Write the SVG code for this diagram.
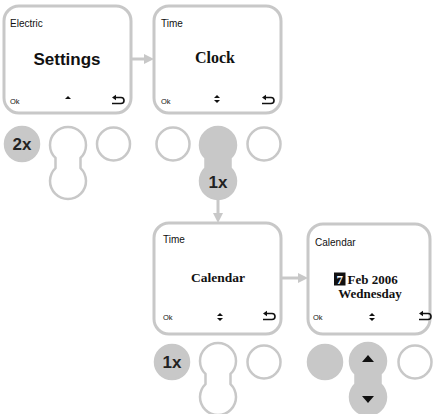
<svg xmlns="http://www.w3.org/2000/svg" width="433" height="414" viewBox="0 0 433 414">
  <style>
    .screen { fill: #ffffff; stroke: #c8c8c8; stroke-width: 3; }
    .btn { fill: #ffffff; stroke: #c8c8c8; stroke-width: 2.5; }
    .btn-on { fill: #c8c8c8; stroke: #c8c8c8; stroke-width: 2.5; }
    .conn { stroke: #c8c8c8; stroke-width: 3; fill: none; }
    .head { fill: #c8c8c8; }
    .hdr { font-family: "Liberation Sans", Arial, sans-serif; font-size: 10px; fill: #111; }
    .soft { font-family: "Liberation Sans", Arial, sans-serif; font-size: 7.5px; fill: #111; }
    .title-sans { font-family: "Liberation Sans", Arial, sans-serif; font-weight: bold; font-size: 17px; fill: #111; text-anchor: middle; }
    .title-serif { font-family: "Liberation Serif", "Times New Roman", serif; font-weight: bold; fill: #111; }
    .count { font-family: "Liberation Sans", Arial, sans-serif; font-weight: bold; font-size: 17px; fill: #222; text-anchor: middle; }
    .icon { fill: #111; }
    .back { fill: none; stroke: #111; stroke-width: 1.6; }
  </style>
  <defs>
    <!-- two-lobed navigation key, centred on x=0, top lobe centre y=0 -->
    <path id="key" d="M12.5,12.95 A18,18 0 1 0 -12.5,12.95 L-12.5,23.05 A18,18 0 1 0 12.5,23.05 Z"/>
    <g id="ico-back">
      <path class="back" d="M0,6.5 H9 A3,3 0 0 0 9,0.5 H3.5"/>
      <polygon class="icon" points="0,0.5 4,-2.3 4,3.3"/>
    </g>
    <g id="ico-up">
      <polygon class="icon" points="-3,3 3,3 0,0"/>
    </g>
    <g id="ico-updown">
      <polygon class="icon" points="-3,3 3,3 0,0"/>
      <polygon class="icon" points="-3,5 3,5 0,8"/>
    </g>
  </defs>

  <!-- connectors -->
  <g id="connectors">
    <line class="conn" x1="131" y1="59" x2="145" y2="59"/>
    <polygon class="head" points="154,59 144,54 144,64"/>
    <line class="conn" x1="218" y1="198" x2="218" y2="214"/>
    <polygon class="head" points="218,223 213,213 223,213"/>
    <line class="conn" x1="281" y1="278" x2="299" y2="278"/>
    <polygon class="head" points="308,278 298,273 298,283"/>
  </g>

  <!-- screen: Electric / Settings -->
  <g id="screen-settings">
    <rect class="screen" x="4" y="6" width="127" height="107" rx="15"/>
    <text class="hdr" x="10" y="27">Electric</text>
    <text class="title-sans" x="67" y="65">Settings</text>
    <text class="soft" x="10" y="104">Ok</text>
    <use href="#ico-up" x="68" y="96"/>
    <use href="#ico-back" x="112" y="97"/>
  </g>

  <!-- screen: Time / Clock -->
  <g id="screen-clock">
    <rect class="screen" x="154" y="6" width="127" height="107" rx="15"/>
    <text class="hdr" x="161" y="27">Time</text>
    <text class="title-serif" x="215" y="63" font-size="16" text-anchor="middle">Clock</text>
    <text class="soft" x="161" y="104">Ok</text>
    <use href="#ico-updown" x="217" y="95"/>
    <use href="#ico-back" x="262" y="97"/>
  </g>

  <!-- keypad under Settings: press back twice -->
  <g id="keys-1">
    <circle class="btn-on" cx="22" cy="144" r="17"/>
    <text class="count" x="22" y="150">2x</text>
    <use class="btn" href="#key" x="68" y="145"/>
    <circle class="btn" cx="113.5" cy="144" r="16.5"/>
  </g>

  <!-- keypad under Clock: press down once -->
  <g id="keys-2">
    <circle class="btn" cx="173" cy="144" r="16.5"/>
    <use class="btn-on" href="#key" x="218" y="145"/>
    <text class="count" x="218" y="188">1x</text>
    <circle class="btn" cx="264" cy="144" r="16.5"/>
  </g>

  <!-- screen: Time / Calendar -->
  <g id="screen-calendar">
    <rect class="screen" x="154" y="223" width="127" height="111" rx="15"/>
    <text class="hdr" x="163" y="243">Time</text>
    <text class="title-serif" x="218" y="282" font-size="13.5" text-anchor="middle">Calendar</text>
    <text class="soft" x="163" y="320">Ok</text>
    <use href="#ico-updown" x="220" y="313"/>
    <use href="#ico-back" x="263" y="313"/>
  </g>

  <!-- screen: Calendar date -->
  <g id="screen-date">
    <rect class="screen" x="308" y="224" width="122" height="110" rx="15"/>
    <text class="hdr" x="315" y="246">Calendar</text>
    <rect x="334" y="272.5" width="11.5" height="13" fill="#111"/>
    <text class="title-serif" x="339.8" y="283.5" font-size="13" text-anchor="middle" style="fill:#fff">7</text>
    <text class="title-serif" x="347.5" y="283.5" font-size="13">Feb 2006</text>
    <text class="title-serif" x="370" y="298" font-size="13" text-anchor="middle">Wednesday</text>
    <text class="soft" x="313" y="320">Ok</text>
    <use href="#ico-updown" x="372" y="313"/>
    <use href="#ico-back" x="419" y="313"/>
  </g>

  <!-- keypad under Calendar: press OK once -->
  <g id="keys-3">
    <circle class="btn-on" cx="172" cy="362" r="17"/>
    <text class="count" x="172" y="368">1x</text>
    <use class="btn" href="#key" x="218" y="361"/>
    <circle class="btn" cx="264" cy="362" r="16.5"/>
  </g>

  <!-- keypad under date: scroll up / down -->
  <g id="keys-4">
    <circle class="btn-on" cx="325" cy="362" r="17"/>
    <use class="btn-on" href="#key" x="368" y="361"/>
    <polygon class="icon" points="362,362 374,362 368,355"/>
    <polygon class="icon" points="362,396 374,396 368,403"/>
    <circle class="btn" cx="415" cy="362" r="16.5"/>
  </g>
</svg>
